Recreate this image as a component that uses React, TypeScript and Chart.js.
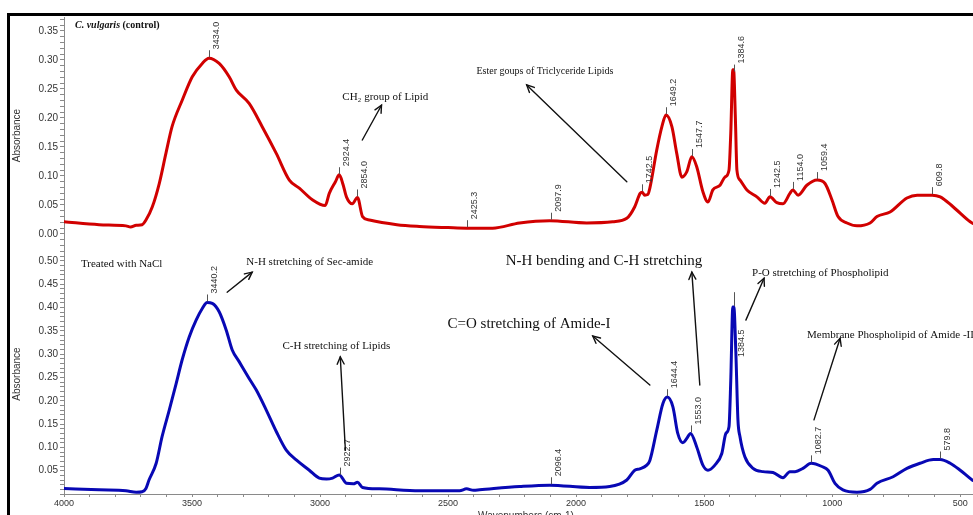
import React, { useEffect, useRef } from 'react';
import { Chart, registerables } from 'chart.js';

Chart.register(...registerables);

// ---------------- data ----------------
const controlWavenumbers = [4000, 3863, 3758, 3740, 3718, 3695, 3680, 3655, 3628, 3602, 3578, 3538, 3499, 3460, 3434, 3394, 3355, 3327, 3277, 3226, 3171, 3120, 3081, 3030, 2980, 2964, 2940, 2925, 2910, 2897, 2874, 2854, 2834, 2807, 2700, 2612, 2500, 2428, 2326, 2221, 2103, 1959, 1857, 1802, 1771, 1750, 1742, 1732, 1720, 1712, 1685, 1665, 1649, 1626, 1607, 1587, 1568, 1548, 1529, 1505, 1485, 1466, 1438, 1419, 1403, 1396, 1388, 1385, 1378, 1372, 1360, 1333, 1294, 1263, 1243, 1216, 1192, 1165, 1154, 1133, 1099, 1059, 1028, 1001, 977, 942, 903, 852, 825, 774, 708, 668, 610, 578, 528, 461, 450];
const controlAbsorbance = [0.021, 0.016, 0.014, 0.012, 0.015, 0.016, 0.024, 0.047, 0.087, 0.139, 0.185, 0.231, 0.271, 0.294, 0.303, 0.294, 0.271, 0.248, 0.225, 0.185, 0.139, 0.093, 0.079, 0.059, 0.049, 0.070, 0.090, 0.102, 0.085, 0.064, 0.052, 0.063, 0.030, 0.024, 0.016, 0.013, 0.011, 0.010, 0.010, 0.019, 0.023, 0.019, 0.021, 0.027, 0.047, 0.070, 0.072, 0.067, 0.068, 0.079, 0.145, 0.185, 0.205, 0.185, 0.139, 0.098, 0.107, 0.133, 0.116, 0.073, 0.055, 0.076, 0.084, 0.098, 0.110, 0.174, 0.283, 0.283, 0.200, 0.110, 0.093, 0.076, 0.064, 0.053, 0.064, 0.054, 0.052, 0.070, 0.076, 0.067, 0.084, 0.093, 0.087, 0.059, 0.030, 0.019, 0.014, 0.019, 0.030, 0.038, 0.062, 0.067, 0.067, 0.064, 0.047, 0.021, 0.018];

const naclWavenumbers = [4000, 3863, 3758, 3718, 3695, 3680, 3668, 3640, 3617, 3589, 3562, 3539, 3511, 3484, 3460, 3441, 3421, 3394, 3366, 3343, 3316, 3277, 3249, 3210, 3171, 3132, 3093, 3042, 3003, 2975, 2951, 2925, 2897, 2870, 2854, 2834, 2768, 2612, 2455, 2428, 2400, 2377, 2221, 2103, 1947, 1869, 1802, 1771, 1751, 1724, 1712, 1685, 1661, 1644, 1622, 1603, 1583, 1568, 1553, 1529, 1505, 1485, 1458, 1431, 1415, 1403, 1396, 1388, 1384, 1376, 1368, 1360, 1341, 1309, 1270, 1231, 1192, 1165, 1145, 1114, 1082, 1040, 1016, 989, 958, 903, 852, 825, 762, 708, 657, 605, 578, 539, 500, 453, 450];
const naclAbsorbance = [0.012, 0.009, 0.007, 0.004, 0.005, 0.012, 0.030, 0.066, 0.123, 0.180, 0.237, 0.287, 0.337, 0.373, 0.398, 0.411, 0.409, 0.391, 0.351, 0.309, 0.284, 0.248, 0.223, 0.180, 0.134, 0.094, 0.073, 0.051, 0.034, 0.032, 0.034, 0.041, 0.023, 0.022, 0.025, 0.014, 0.011, 0.007, 0.007, 0.011, 0.008, 0.009, 0.016, 0.019, 0.014, 0.016, 0.030, 0.051, 0.054, 0.062, 0.072, 0.137, 0.194, 0.208, 0.187, 0.130, 0.110, 0.119, 0.130, 0.101, 0.062, 0.051, 0.062, 0.087, 0.130, 0.144, 0.244, 0.401, 0.401, 0.301, 0.159, 0.123, 0.080, 0.055, 0.048, 0.046, 0.035, 0.048, 0.048, 0.055, 0.066, 0.059, 0.051, 0.023, 0.009, 0.004, 0.010, 0.023, 0.037, 0.055, 0.066, 0.074, 0.074, 0.066, 0.051, 0.030, 0.029];

const controlPeakLabels = ['3434.0', '2924.4', '2854.0', '2425.3', '2097.9', '1742.5', '1649.2', '1547.7', '1384.6', '1242.5', '1154.0', '1059.4', '609.8'];
const naclPeakLabels = ['3440.2', '2922.7', '2096.4', '1644.4', '1553.0', '1384.5', '1082.7', '579.8'];

const xTickLabels = ['4000', '3500', '3000', '2500', '2000', '1500', '1000', '500'];
const controlYTickLabels = ['0.00', '0.05', '0.10', '0.15', '0.20', '0.25', '0.30', '0.35'];
const naclYTickLabels = ['0.05', '0.10', '0.15', '0.20', '0.25', '0.30', '0.35', '0.40', '0.45', '0.50'];

// ---------------- styles ----------------
const SERIF = '"Liberation Serif", "Times New Roman", serif';
const SANS = '"Liberation Sans", Arial, sans-serif';
const RED = '#d10000';
const BLUE = '#0808b4';
const AXIS = '#8a8a8a';
const TICKTXT = '#333333';

function interp(wns: number[], vals: number[], w: number): number {
  for (let i = 0; i < wns.length - 1; i++) {
    const a = wns[i], b = wns[i + 1];
    if ((w <= a && w >= b)) {
      const t = a === b ? 0 : (a - w) / (a - b);
      return vals[i] + t * (vals[i + 1] - vals[i]);
    }
  }
  return vals[vals.length - 1];
}

type Part = [string, string];
type Txt = { parts: Part[]; x: number; y: number; size: number };
type Arrow = { from: [number, number]; to: [number, number] };
type Peak = { label: string; y: number; tickTo?: number; textFrom?: number };
type Notes = { texts: Txt[]; arrows: Arrow[]; peaks: Peak[]; xTitle?: string };

function makeNotesPlugin(notes: Notes) {
  return {
    id: 'notes',
    afterDatasetsDraw(chart: any) {
      const ctx: CanvasRenderingContext2D = chart.ctx;
      const xs = chart.scales.x;
      const ys = chart.scales.y;
      const area = chart.chartArea;
      ctx.save();

      // y-axis title
      ctx.save();
      ctx.translate(17.5, (area.top + area.bottom) / 2 + 2);
      ctx.rotate(-Math.PI / 2);
      ctx.font = `10px ${SANS}`;
      ctx.fillStyle = TICKTXT;
      ctx.textAlign = 'center';
      ctx.textBaseline = 'middle';
      ctx.fillText('Absorbance', 0, 0);
      ctx.restore();

      // x-axis title
      if (notes.xTitle) {
        ctx.font = `10px ${SANS}`;
        ctx.fillStyle = TICKTXT;
        ctx.textAlign = 'center';
        ctx.textBaseline = 'top';
        ctx.fillText(notes.xTitle, 526, area.bottom + 17);
      }

      // peak labels
      for (const p of notes.peaks) {
        const w = parseFloat(p.label);
        const px = Math.round(xs.getPixelForValue(w)) + 0.5;
        const py = ys.getPixelForValue(p.y);
        const tickTop = p.tickTo != null ? ys.getPixelForValue(p.tickTo) : py - 8;
        ctx.strokeStyle = '#555';
        ctx.lineWidth = 1;
        ctx.beginPath();
        ctx.moveTo(px, py - 1);
        ctx.lineTo(px, tickTop);
        ctx.stroke();
        const textStart = p.textFrom != null ? ys.getPixelForValue(p.textFrom) : tickTop - 1;
        ctx.save();
        ctx.translate(px + 2.5, textStart);
        ctx.rotate(-Math.PI / 2);
        ctx.font = `9px ${SANS}`;
        ctx.fillStyle = TICKTXT;
        ctx.textAlign = 'left';
        ctx.textBaseline = 'top';
        ctx.fillText(p.label, 0, 0);
        ctx.restore();
      }

      // arrows
      for (const a of notes.arrows) {
        const x1 = xs.getPixelForValue(a.from[0]);
        const y1 = ys.getPixelForValue(a.from[1]);
        const x2 = xs.getPixelForValue(a.to[0]);
        const y2 = ys.getPixelForValue(a.to[1]);
        ctx.strokeStyle = '#111';
        ctx.lineWidth = 1.4;
        ctx.lineCap = 'round';
        ctx.beginPath();
        ctx.moveTo(x1, y1);
        ctx.lineTo(x2, y2);
        ctx.stroke();
        const ang = Math.atan2(y2 - y1, x2 - x1);
        const L = 8, sp = 0.45;
        ctx.beginPath();
        ctx.moveTo(x2 - L * Math.cos(ang - sp), y2 - L * Math.sin(ang - sp));
        ctx.lineTo(x2, y2);
        ctx.lineTo(x2 - L * Math.cos(ang + sp), y2 - L * Math.sin(ang + sp));
        ctx.stroke();
      }

      // texts
      for (const t of notes.texts) {
        let x = xs.getPixelForValue(t.x);
        const y = ys.getPixelForValue(t.y);
        ctx.textAlign = 'left';
        ctx.textBaseline = 'middle';
        ctx.fillStyle = '#111';
        for (const [s, style] of t.parts) {
          ctx.font = `${style} ${t.size}px ${SERIF}`.trim();
          ctx.fillText(s, x, y);
          x += ctx.measureText(s).width;
        }
      }
      ctx.restore();
    },
  };
}

function buildConfig(opts: {
  wns: number[]; vals: number[]; color: string; yMin: number; yMax: number;
  yLabels: string[]; showX: boolean; padTop: number; notes: Notes;
}): any {
  const points = opts.wns.map((w, i) => ({ x: w, y: opts.vals[i] }));
  const xMinor: number[] = [];
  for (let v = 4000; v >= 500; v -= 100) xMinor.push(v);
  const yMinor: number[] = [];
  for (let k = Math.ceil(opts.yMin * 100); k <= Math.floor(opts.yMax * 100); k++) yMinor.push(k / 100);
  return {
    type: 'line',
    data: {
      datasets: [{
        data: points,
        borderColor: opts.color,
        borderWidth: 3,
        pointRadius: 0,
        fill: false,
        cubicInterpolationMode: 'monotone',
        borderJoinStyle: 'round',
        borderCapStyle: 'round',
      }],
    },
    options: {
      responsive: false,
      animation: false,
      devicePixelRatio: 1,
      layout: { padding: { top: opts.padTop, left: 0, right: 0, bottom: 0 } },
      plugins: { legend: { display: false }, tooltip: { enabled: false }, title: { display: false } },
      events: [],
      scales: {
        x: {
          type: 'linear',
          reverse: true,
          min: 450,
          max: 4000,
          display: opts.showX,
          afterBuildTicks: (s: any) => { s.ticks = xMinor.map((v) => ({ value: v })); },
          afterFit: (s: any) => { s.height = opts.showX ? 36 : 0; s.paddingLeft = 0; s.paddingRight = 0; },
          ticks: {
            autoSkip: false,
            maxRotation: 0,
            padding: 1,
            color: TICKTXT,
            font: { family: SANS, size: 9 },
            callback: (v: number) => (xTickLabels.includes(String(v)) ? String(v) : ''),
          },
          grid: { drawOnChartArea: false, tickLength: 3, color: AXIS },
          border: { color: AXIS, width: 1 },
        },
        y: {
          type: 'linear',
          min: opts.yMin,
          max: opts.yMax,
          afterBuildTicks: (s: any) => { s.ticks = yMinor.map((v) => ({ value: v })); },
          afterFit: (s: any) => { s.width = 64; s.paddingTop = 0; s.paddingBottom = 0; },
          ticks: {
            autoSkip: false,
            padding: 2,
            color: TICKTXT,
            font: { family: SANS, size: 10 },
            callback: (v: number) => {
              const s = Number(v).toFixed(2);
              return opts.yLabels.includes(s) ? s : '';
            },
          },
          grid: { drawOnChartArea: false, tickLength: 4, color: AXIS },
          border: { color: AXIS, width: 1 },
        },
      },
    },
    plugins: [makeNotesPlugin(opts.notes)],
  };
}

const controlNotes: Notes = {
  texts: [
    { parts: [['C. vulgaris', 'italic bold'], [' (control)', 'bold']], x: 3957, y: 0.360, size: 10 },
    { parts: [['CH₂ group of Lipid', '']], x: 2913, y: 0.236, size: 11 },
    { parts: [['Ester goups of Triclyceride Lipids', '']], x: 2389, y: 0.281, size: 10 },
  ],
  arrows: [
    { from: [2835, 0.162], to: [2760, 0.222] },
    { from: [1802, 0.090], to: [2193, 0.257] },
  ],
  peaks: controlPeakLabels.map((l) => ({ label: l, y: interp(controlWavenumbers, controlAbsorbance, parseFloat(l)) })),
};

const naclNotes: Notes = {
  texts: [
    { parts: [['Treated with NaCl', '']], x: 3934, y: 0.493, size: 11 },
    { parts: [['N-H stretching of Sec-amide', '']], x: 3288, y: 0.497, size: 11 },
    { parts: [['C-H stretching of Lipids', '']], x: 3147, y: 0.317, size: 11 },
    { parts: [['C=O stretching of Amide-I', '']], x: 2502, y: 0.364, size: 15 },
    { parts: [['N-H bending and C-H stretching', '']], x: 2275, y: 0.499, size: 15 },
    { parts: [['P-O stretching of Phospholipid', '']], x: 1313, y: 0.474, size: 11 },
    { parts: [['Membrane Phospholipid of Amide -II', '']], x: 1098, y: 0.341, size: 11 },
  ],
  arrows: [
    { from: [3363, 0.433], to: [3265, 0.476] },
    { from: [2901, 0.094], to: [2921, 0.294] },
    { from: [1712, 0.234], to: [1935, 0.339] },
    { from: [1517, 0.234], to: [1548, 0.476] },
    { from: [1337, 0.373], to: [1266, 0.463] },
    { from: [1071, 0.159], to: [969, 0.334] },
  ],
  peaks: naclPeakLabels.map((l) => {
    const p: Peak = { label: l, y: interp(naclWavenumbers, naclAbsorbance, parseFloat(l)) };
    if (l === '1384.5') { p.tickTo = 0.433; p.textFrom = 0.294; }
    return p;
  }),
  xTitle: 'Wavenumbers (cm-1)',
};

export default function App() {
  const topRef = useRef<HTMLCanvasElement>(null);
  const botRef = useRef<HTMLCanvasElement>(null);

  useEffect(() => {
    const c1 = new Chart(topRef.current as HTMLCanvasElement, buildConfig({
      wns: controlWavenumbers, vals: controlAbsorbance, color: RED,
      yMin: -0.0276, yMax: 0.3741, yLabels: controlYTickLabels, showX: false, padTop: 17, notes: controlNotes,
    }));
    const c2 = new Chart(botRef.current as HTMLCanvasElement, buildConfig({
      wns: naclWavenumbers, vals: naclAbsorbance, color: BLUE,
      yMin: 0, yMax: 0.5235, yLabels: naclYTickLabels, showX: true, padTop: 0, notes: naclNotes,
    }));
    return () => { c1.destroy(); c2.destroy(); };
  }, []);

  return (
    <div style={{ position: 'fixed', left: 0, top: 0, width: 973, height: 515, overflow: 'hidden', background: '#fff' }}>
      <canvas ref={topRef} width={973} height={250} style={{ position: 'absolute', left: 0, top: 0 }} />
      <canvas ref={botRef} width={973} height={280} style={{ position: 'absolute', left: 0, top: 250 }} />
      <div style={{ position: 'absolute', left: 7, top: 13, width: 1200, height: 1200, borderLeft: '3px solid #000', borderTop: '3px solid #000', pointerEvents: 'none' }} />
    </div>
  );
}
